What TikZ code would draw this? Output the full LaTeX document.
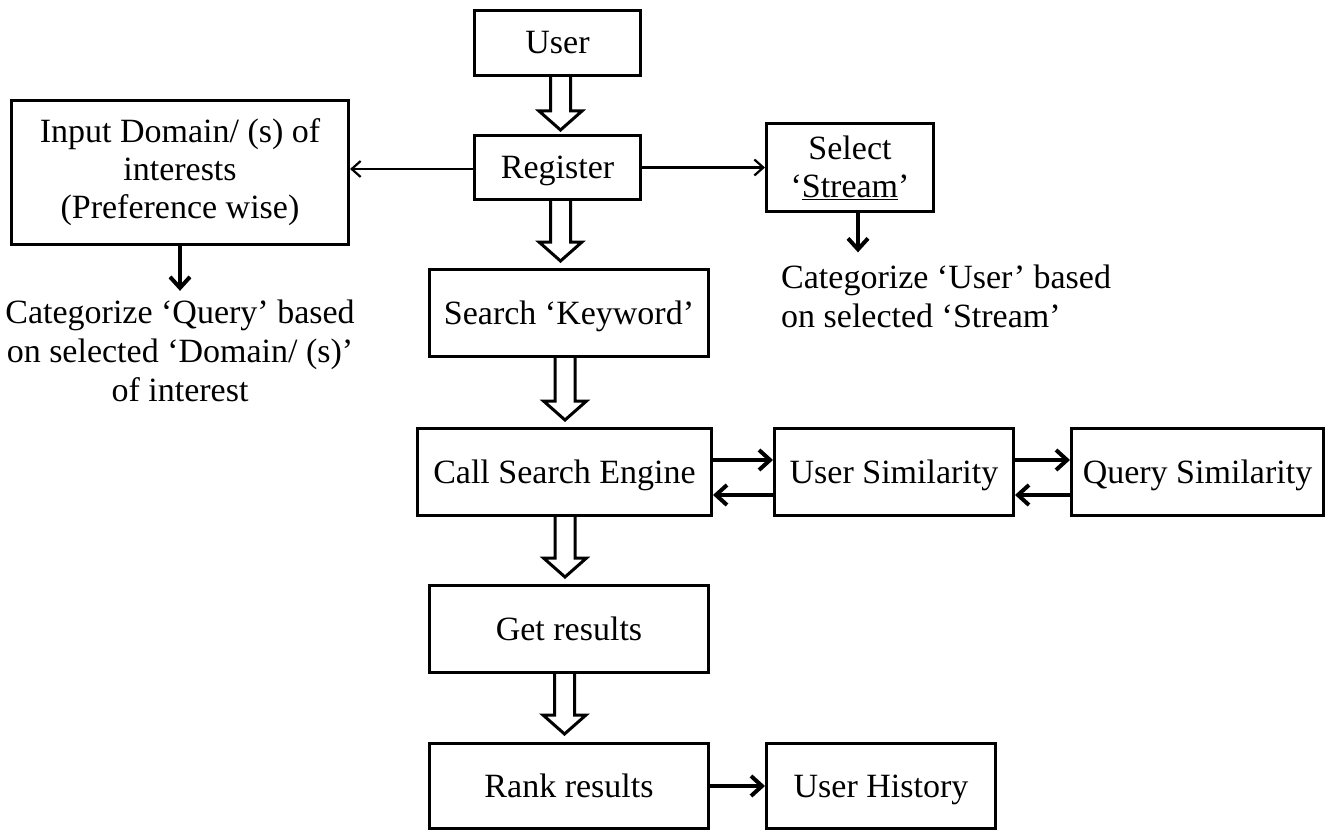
\documentclass[tikz,border=0pt]{standalone}
\usepackage{fontspec}
\setmainfont{Liberation Serif}
\usetikzlibrary{arrows.meta,calc}
\tikzset{
  box/.style={draw, line width=3pt, inner sep=0pt, align=center,
    font=\fontsize{34}{38}\selectfont},
  one/.style={text height=29pt, text depth=7pt},
  lbl/.style={inner sep=0pt, font=\fontsize{34}{39}\selectfont},
  thinarr/.style={-{Straight Barb[length=9pt,width=16pt]}, line width=2.2pt},
  thickarr/.style={-{Straight Barb[length=11pt,width=20pt]}, line width=4pt},
  hollow/.style={draw, line width=3pt, line join=miter},
}
\newcommand\hollowarr[4]{%
  \draw[hollow] let \p1=(#1.south), \p2=(#2.north) in
    (#3pt-10pt,\y1) -- (#3pt-10pt,\y2+#4pt+19pt) -- (#3pt-21.5pt,\y2+#4pt+19pt)
    -- (#3pt,\y2+#4pt) -- (#3pt+21.5pt,\y2+#4pt+19pt) -- (#3pt+10pt,\y2+#4pt+19pt)
    -- (#3pt+10pt,\y1);}
\begin{document}
\begin{tikzpicture}[x=1pt,y=-1pt]
\useasboundingbox (0,0) rectangle (1334,832);
% boxes
\node[box, one, minimum width=166pt, minimum height=65pt] (user) at (557.5,43) {User};
\node[box, one, minimum width=166pt, minimum height=64pt] (reg) at (557.5,167.5) {Register};
\node[box, minimum width=337pt, minimum height=144pt] (inp) at (180,172.5)
  {Input Domain/ (s) of\\ interests\\ (Preference wise)};
\node[box, minimum width=167pt, minimum height=88pt] (sel) at (850,167.5)
  {Select\\ ‘\underline{Stream}’};
\node[box, one, minimum width=279pt, minimum height=87pt] (srch) at (569,313) {Search ‘Keyword’};
\node[box, one, minimum width=294pt, minimum height=87pt] (call) at (564.5,472) {Call Search Engine};
\node[box, one, minimum width=239pt, minimum height=87pt] (usim) at (894,472) {User Similarity};
\node[box, one, minimum width=252pt, minimum height=87pt] (qsim) at (1197.5,472) {Query Similarity};
\node[box, one, minimum width=279pt, minimum height=87pt] (get) at (569,629) {Get results};
\node[box, one, minimum width=279pt, minimum height=85pt] (rank) at (569,786) {Rank results};
\node[box, one, minimum width=229pt, minimum height=85pt] (hist) at (881,786) {User History};
% free labels
\node[lbl, align=center] (catq) at (180,351)
  {Categorize ‘Query’ based\\ on selected ‘Domain/ (s)’\\ of interest};
\node[lbl, align=left, anchor=west] (catu) at (781,296)
  {Categorize ‘User’ based\\ on selected ‘Stream’};
% hollow arrows
\hollowarr{user}{reg}{560.5}{4}
\hollowarr{reg}{srch}{560.5}{7}
\hollowarr{srch}{call}{565}{7}
\hollowarr{call}{get}{565}{7}
\hollowarr{get}{rank}{564.5}{8}
% thin arrows
\draw[thinarr] ([yshift=-1.5pt]reg.west) -- ([yshift=-1.5pt]reg.west -| inp.east);
\draw[thinarr] (reg.east) -- (reg.east -| sel.west);
% thick arrows
\draw[thickarr] (inp.south) -- ([yshift=9pt]catq.north);
\draw[thickarr] ([xshift=8pt]sel.south) -- ([xshift=8pt,yshift=12pt]sel.south |- catu.north);
\draw[thickarr] ([yshift=12pt]call.east) -- ([yshift=12pt]call.east -| usim.west);
\draw[thickarr] ([yshift=-23pt]usim.west) -- ([yshift=-23pt]usim.west -| call.east);
\draw[thickarr] ([yshift=12pt]usim.east) -- ([yshift=12pt]usim.east -| qsim.west);
\draw[thickarr] ([yshift=-23pt]qsim.west) -- ([yshift=-23pt]qsim.west -| usim.east);
\draw[thickarr] (rank.east) -- (rank.east -| hist.west);
\end{tikzpicture}
\end{document}
